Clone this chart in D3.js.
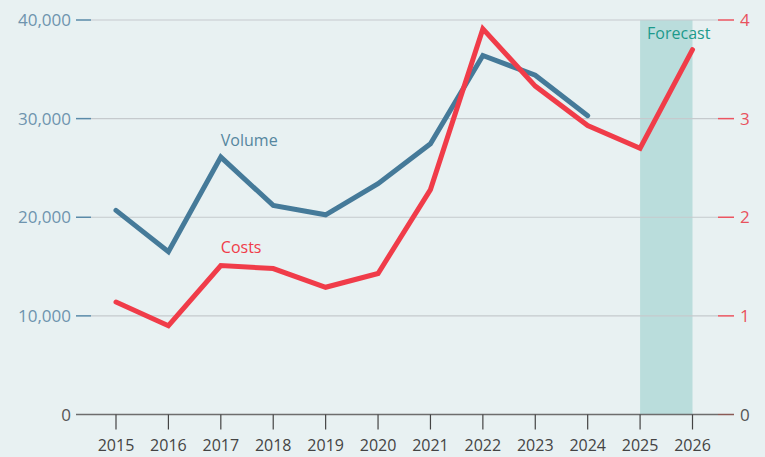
<!DOCTYPE html>
<html>
<head>
<meta charset="utf-8">
<script src="https://cdn.jsdelivr.net/npm/d3@7"></script>
<style>
  body { margin: 0; background: #e8f1f2; }
  svg { display: block; font-family: "Open Sans", sans-serif; }
</style>
</head>
<body>
<svg id="chart" width="765" height="457"></svg>
<script>
var years = [2015, 2016, 2017, 2018, 2019, 2020, 2021, 2022, 2023, 2024, 2025, 2026];
var volume = [20700, 16500, 26100, 21200, 20250, 23400, 27450, 36400, 34400, 30300];
var costs = [1.14, 0.9, 1.51, 1.48, 1.29, 1.43, 2.28, 3.91, 3.33, 2.93, 2.70, 3.70];
var leftTicks = [0, 10000, 20000, 30000, 40000];
var rightTicks = [0, 1, 2, 3, 4];
var forecastYears = [2025, 2026];

var svg = d3.select("#chart");
var W = 765, H = 457;

// plot area
var x = d3.scalePoint().domain(years).range([116, 692.5]);
var yL = d3.scaleLinear().domain([0, 40000]).range([414.5, 20]);
var yR = d3.scaleLinear().domain([0, 4]).range([414.5, 20]);
var gridLeft = 76, gridRight = 734;

svg.append("rect").attr("width", W).attr("height", H).attr("fill", "#e8f1f2");

// forecast band
svg.append("rect")
  .attr("x", x(forecastYears[0]))
  .attr("y", yL(40000))
  .attr("width", x(forecastYears[1]) - x(forecastYears[0]))
  .attr("height", yL(0) - yL(40000))
  .attr("fill", "#badddc");

svg.append("text")
  .attr("x", x(forecastYears[0]) + 7)
  .attr("y", yL(40000) + 19)
  .attr("fill", "#1d9a8c")
  .attr("font-size", 16)
  .text("Forecast");

// grid lines
svg.append("g").selectAll("line")
  .data(leftTicks.filter(function(d){ return d > 0; }))
  .join("line")
  .attr("x1", gridLeft + 15).attr("x2", gridRight - 16)
  .attr("y1", function(d){ return yL(d); }).attr("y2", function(d){ return yL(d); })
  .attr("stroke", "#c5cacd").attr("stroke-width", 1.2);

// left axis ticks + labels
var gl = svg.append("g");
gl.selectAll("line").data(leftTicks).join("line")
  .attr("x1", gridLeft).attr("x2", gridLeft + 15)
  .attr("y1", function(d){ return yL(d); }).attr("y2", function(d){ return yL(d); })
  .attr("stroke", function(d){ return d === 0 ? "#6d6d6d" : "#5a8aa8"; })
  .attr("stroke-width", 1.5);
gl.selectAll("text").data(leftTicks).join("text")
  .attr("x", gridLeft - 5)
  .attr("y", function(d){ return yL(d) + 6; })
  .attr("text-anchor", "end")
  .attr("font-size", 17)
  .attr("fill", function(d){ return d === 0 ? "#555" : "#6e94ae"; })
  .text(function(d){ return d3.format(",")(d); });

// right axis ticks + labels
var gr = svg.append("g");
gr.selectAll("line").data(rightTicks).join("line")
  .attr("x1", gridRight - 16).attr("x2", gridRight)
  .attr("y1", function(d){ return yR(d); }).attr("y2", function(d){ return yR(d); })
  .attr("stroke", function(d){ return d === 0 ? "#8a5a55" : "#ec5561"; })
  .attr("stroke-width", 1.5);
gr.selectAll("text").data(rightTicks).join("text")
  .attr("x", gridRight + 6)
  .attr("y", function(d){ return yR(d) + 6; })
  .attr("font-size", 17)
  .attr("fill", function(d){ return d === 0 ? "#555" : "#e8525d"; })
  .text(function(d){ return d; });

// x axis
svg.append("line")
  .attr("x1", gridLeft + 15).attr("x2", gridRight - 16)
  .attr("y1", yL(0)).attr("y2", yL(0))
  .attr("stroke", "#6d6d6d").attr("stroke-width", 1.5);

var gx = svg.append("g");
gx.selectAll("line").data(years).join("line")
  .attr("x1", function(d){ return x(d); }).attr("x2", function(d){ return x(d); })
  .attr("y1", yL(0)).attr("y2", yL(0) + 15)
  .attr("stroke", "#444").attr("stroke-width", 1.2);
gx.selectAll("text").data(years).join("text")
  .attr("x", function(d){ return x(d); })
  .attr("y", 451)
  .attr("text-anchor", "middle")
  .attr("font-size", 16)
  .attr("fill", "#444")
  .text(function(d){ return d; });

// lines
var lineL = d3.line().x(function(d, i){ return x(years[i]); }).y(function(d){ return yL(d); });
var lineR = d3.line().x(function(d, i){ return x(years[i]); }).y(function(d){ return yR(d); });

svg.append("path").datum(volume)
  .attr("d", lineL)
  .attr("fill", "none").attr("stroke", "#457a99").attr("stroke-width", 5)
  .attr("stroke-linecap", "round").attr("stroke-linejoin", "miter");

svg.append("path").datum(costs)
  .attr("d", lineR)
  .attr("fill", "none").attr("stroke", "#f03c49").attr("stroke-width", 5)
  .attr("stroke-linecap", "round").attr("stroke-linejoin", "miter");

// series labels
svg.append("text")
  .attr("x", x(2017)).attr("y", 146)
  .attr("font-size", 16).attr("fill", "#55869f")
  .text("Volume");
svg.append("text")
  .attr("x", x(2017)).attr("y", 253)
  .attr("font-size", 16).attr("fill", "#f03c49")
  .text("Costs");
</script>
</body>
</html>
